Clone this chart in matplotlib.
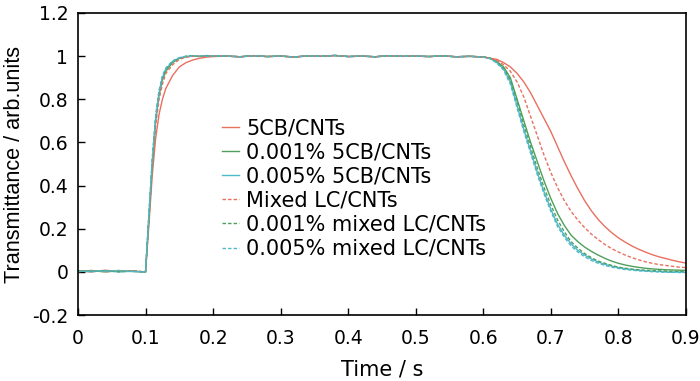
import matplotlib.pyplot as plt

plt.rcParams['font.family'] = ['DejaVu Sans']

# time axis (s)
t = [0.00, 0.02, 0.04, 0.06, 0.08,
     0.10, 0.105, 0.11, 0.115, 0.12, 0.125, 0.13,
     0.14, 0.15, 0.16, 0.17, 0.18, 0.19, 0.20,
     0.22, 0.24, 0.26, 0.28, 0.30, 0.32, 0.34, 0.36, 0.38, 0.40,
     0.42, 0.44, 0.46, 0.48, 0.50, 0.52, 0.54, 0.56, 0.58, 0.60,
     0.61, 0.62, 0.63, 0.64, 0.65, 0.66, 0.67, 0.68, 0.69, 0.70,
     0.71, 0.72, 0.73, 0.74, 0.75, 0.76, 0.77, 0.78, 0.79, 0.80,
     0.81, 0.82, 0.83, 0.84, 0.85, 0.86, 0.87, 0.88, 0.89, 0.90]

plateau = [1.0, 0.997, 1.002, 0.998, 1.0, 0.996, 1.001, 0.999, 1.003, 0.998,
           1.0, 0.997, 1.002, 0.999, 1.0, 0.998, 1.001, 0.997, 0.999, 0.996]

cb_cnt = ([0.005, 0.0, 0.008, 0.002, 0.004,
           0.0, 0.22, 0.45, 0.62, 0.73, 0.80, 0.85,
           0.91, 0.95, 0.97, 0.982, 0.99, 0.995, 0.998] + plateau +
          [0.99, 0.985, 0.97, 0.95, 0.92, 0.88, 0.83, 0.77, 0.71, 0.65,
           0.58, 0.51, 0.445, 0.385, 0.33, 0.283, 0.243, 0.21, 0.182, 0.158,
           0.138, 0.12, 0.105, 0.092, 0.08, 0.07, 0.062, 0.054, 0.047, 0.041])

cb_001 = ([0.003, 0.006, 0.0, 0.005, 0.002,
           0.0, 0.25, 0.50, 0.70, 0.82, 0.89, 0.93,
           0.97, 0.99, 0.997, 1.0, 0.998, 1.002, 0.999] + plateau +
          [0.99, 0.975, 0.95, 0.90, 0.80, 0.70, 0.60, 0.51, 0.42, 0.34,
           0.27, 0.215, 0.17, 0.14, 0.115, 0.095, 0.078, 0.063, 0.05, 0.04,
           0.032, 0.026, 0.021, 0.017, 0.014, 0.012, 0.01, 0.009, 0.008, 0.007])

cb_005 = ([0.004, 0.001, 0.006, 0.0, 0.003,
           0.0, 0.26, 0.51, 0.71, 0.83, 0.90, 0.94,
           0.975, 0.992, 0.998, 1.001, 0.999, 1.003, 1.0] + plateau +
          [0.99, 0.97, 0.94, 0.88, 0.77, 0.66, 0.56, 0.46, 0.37, 0.29,
           0.22, 0.17, 0.13, 0.10, 0.078, 0.06, 0.046, 0.035, 0.027, 0.02,
           0.015, 0.011, 0.008, 0.005, 0.003, 0.002, 0.0, -0.002, 0.0, -0.003])

mix_cnt = ([0.002, 0.007, 0.001, 0.004, 0.006,
            0.0, 0.24, 0.48, 0.68, 0.80, 0.87, 0.92,
            0.96, 0.985, 0.995, 0.999, 1.0, 0.998, 1.001] + plateau +
           [0.99, 0.98, 0.96, 0.93, 0.88, 0.81, 0.72, 0.63, 0.54, 0.46,
            0.39, 0.33, 0.28, 0.24, 0.205, 0.175, 0.15, 0.127, 0.108, 0.092,
            0.078, 0.066, 0.056, 0.047, 0.04, 0.034, 0.03, 0.026, 0.022, 0.02])

mix_001 = ([0.006, 0.002, 0.005, 0.001, 0.004,
            0.0, 0.26, 0.52, 0.72, 0.84, 0.90, 0.94,
            0.975, 0.99, 1.0, 1.002, 0.998, 1.001, 1.0] + plateau +
           [0.99, 0.972, 0.945, 0.89, 0.79, 0.68, 0.58, 0.48, 0.39, 0.31,
            0.24, 0.185, 0.14, 0.11, 0.085, 0.066, 0.05, 0.04, 0.03, 0.022,
            0.017, 0.013, 0.01, 0.008, 0.006, 0.005, 0.004, 0.003, 0.003, 0.002])

mix_005 = ([0.001, 0.005, 0.003, 0.007, 0.002,
            0.0, 0.27, 0.53, 0.72, 0.84, 0.91, 0.945,
            0.978, 0.993, 0.999, 1.0, 1.002, 0.999, 1.001] + plateau +
           [0.988, 0.968, 0.935, 0.87, 0.76, 0.65, 0.55, 0.45, 0.36, 0.28,
            0.21, 0.16, 0.12, 0.092, 0.07, 0.053, 0.04, 0.03, 0.022, 0.016,
            0.011, 0.008, 0.005, 0.003, 0.001, 0.0, -0.002, -0.001, -0.003, -0.002])

red = '#E8705F'
green = '#4E9F5C'
blue = '#4FB8C9'
dash = (0, (2.5, 1.5))

fig = plt.figure(figsize=(7, 3.81), dpi=100)
ax = fig.add_axes([0.1114, 0.173, 0.8686, 0.793])

ax.plot(t, cb_cnt, color=red, lw=1.0, label='5CB/CNTs')
ax.plot(t, cb_001, color=green, lw=1.0, label='0.001% 5CB/CNTs')
ax.plot(t, cb_005, color=blue, lw=1.0, label='0.005% 5CB/CNTs')
ax.plot(t, mix_cnt, color=red, lw=1.0, ls=dash, label='Mixed LC/CNTs')
ax.plot(t, mix_001, color=green, lw=1.0, ls=dash, label='0.001% mixed LC/CNTs')
ax.plot(t, mix_005, color=blue, lw=1.0, ls=dash, label='0.005% mixed LC/CNTs')

ax.set_xlim(0, 0.9)
ax.set_ylim(-0.2, 1.2)
ax.set_xticks([0, 0.1, 0.2, 0.3, 0.4, 0.5, 0.6, 0.7, 0.8, 0.9])
ax.set_xticklabels(['0', '0.1', '0.2', '0.3', '0.4', '0.5', '0.6', '0.7', '0.8', '0.9'])
ax.set_yticks([-0.2, 0, 0.2, 0.4, 0.6, 0.8, 1.0, 1.2])
ax.set_yticklabels(['-0.2', '0', '0.2', '0.4', '0.6', '0.8', '1', '1.2'])
ax.tick_params(axis='x', direction='in', length=5, width=1, pad=10,
               labelsize=13.5, top=False)
ax.tick_params(axis='y', direction='in', length=5, width=1, pad=7,
               labelsize=13.5, right=False)
for s in ax.spines.values():
    s.set_linewidth(1.2)

ax.set_xlabel('Time / s', fontsize=15, labelpad=8)
ax.set_ylabel('Transmittance / arb.units', family=['Liberation Sans', 'DejaVu Sans'],
              fontsize=15.6, labelpad=5)

ax.legend(loc='upper left', bbox_to_anchor=(0.237, 0.652), frameon=False,
          fontsize=15, handlelength=0.8, handletextpad=0.35, labelspacing=0.2,
          borderpad=0, borderaxespad=0)

fig.savefig('out.png')
